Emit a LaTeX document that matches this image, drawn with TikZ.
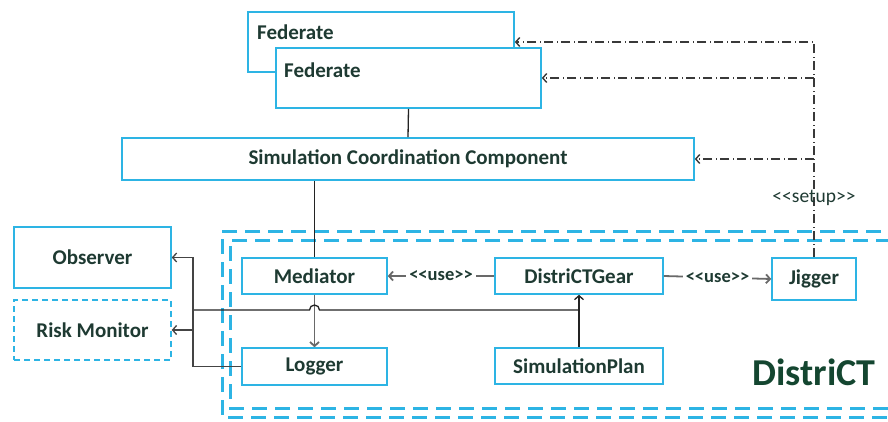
\documentclass[tikz,border=0pt]{standalone}
\usepackage{fontspec}
\setmainfont{Carlito}
\usetikzlibrary{arrows.meta}
\definecolor{cy}{RGB}{45,180,228}
\definecolor{txt}{RGB}{30,58,50}
\definecolor{dgreen}{RGB}{20,70,48}
\definecolor{gr}{RGB}{105,105,105}
\definecolor{dk}{RGB}{35,35,35}
\begin{document}
\begin{tikzpicture}[x=1pt,y=-1pt,
  box/.style={draw=cy,line width=1.6pt,fill=white,inner sep=0pt,text=txt,
    font=\bfseries\fontsize{21}{23}\selectfont},
  lbl/.style={inner sep=0pt,text=txt,font=\bfseries\fontsize{21}{23}\selectfont},
  uselbl/.style={fill=white,inner sep=3pt,text=txt,font=\bfseries\fontsize{18.5}{20}\selectfont},
  tip/.style={-{Straight Barb[length=4pt,width=9pt]}},
  conn/.style={draw=dk,line width=1.3pt},
  gconn/.style={draw=gr,line width=1.8pt},
  dd/.style={draw=dk!90,line width=1.4pt,dash pattern=on 9pt off 3.5pt on 1pt off 3.5pt},
  frame/.style={draw=cy,line width=3pt,dash pattern=on 15pt off 8pt}]
\clip (0,0) rectangle (888,422);
\fill[white] (0,0) rectangle (888,422);
% DistriCT frames
\draw[frame] (950,231) -- (222,231) -- (222,417) -- (950,417);
\draw[frame,dash phase=10pt] (950,240) -- (230,240) -- (230,408) -- (950,408);
\node[inner sep=0pt,text=dgreen,font=\bfseries\fontsize{38}{40}\selectfont] (district) at (814,372) {DistriCT};
% boxes
\node[box,minimum width=266pt,minimum height=60pt] (fedback) at (381,42) {};
\node[lbl,anchor=west] (fedbacktxt) at (257,32) {Federate};
\node[box,minimum width=265pt,minimum height=60pt] (fedfront) at (408.5,78) {};
\node[lbl,anchor=west] (fedfronttxt) at (284,70) {Federate};
\node[box,minimum width=572pt,minimum height=42pt] (scc) at (408,159) {Simulation Coordination Component};
\node[box,minimum width=157pt,minimum height=61pt] (observer) at (92.5,257.5) {Observer};
\node[box,line width=1.4pt,dash pattern=on 6pt off 4pt,minimum width=157pt,minimum height=60pt] (risk) at (92.5,330) {Risk Monitor};
\node[box,minimum width=145pt,minimum height=36pt] (mediator) at (314.5,276) {Mediator};
\node[box,minimum width=145pt,minimum height=37pt] (logger) at (314.5,366.5) {Logger};
\node[box,minimum width=168pt,minimum height=36pt] (gear) at (579,276) {DistriCTGear};
\node[box,minimum width=168pt,minimum height=36pt] (plan) at (579,366) {SimulationPlan};
\node[box,minimum width=84pt,minimum height=42pt] (jigger) at (814,279) {Jigger};
% connectors
\draw[conn] (fedfront.south) -- (scc.north);
\draw[conn] (mediator.north |- scc.south) -- (mediator.north);
\draw[gconn,tip] (mediator.south) -- (logger.north);
\draw[gconn,tip] (gear.west) -- node[uselbl] (use1) {<{}<use>{}>} (mediator.east);
\draw[gconn,tip] (gear.east) -- node[uselbl] (use2) {<{}<use>{}>} (jigger.west);
\draw[conn,tip] (plan.north) -- (gear.south);
\coordinate (bx) at (193,310);
\draw[conn] (bx) -- (309.5,310) arc (180:360:5) -- (plan.north |- bx);
\draw[conn,draw=dk!85,tip] (logger.west) -- (logger.west -| bx) |- (observer.east);
\draw[conn,draw=dk!85,tip] (bx |- risk.east) -- (risk.east);
% setup dash-dot
\draw[dd,tip] (jigger.north) -- (jigger.north |- fedback.east) -- (fedback.east);
\draw[dd,tip] (jigger.north |- fedfront.east) -- (fedfront.east);
\draw[dd,tip] (jigger.north |- scc.east) -- (scc.east);
\node[inner sep=0pt,text=txt,font=\fontsize{19.5}{21}\selectfont] (setup) at (814,198) {<{}<setup>{}>};
\end{tikzpicture}
\end{document}
